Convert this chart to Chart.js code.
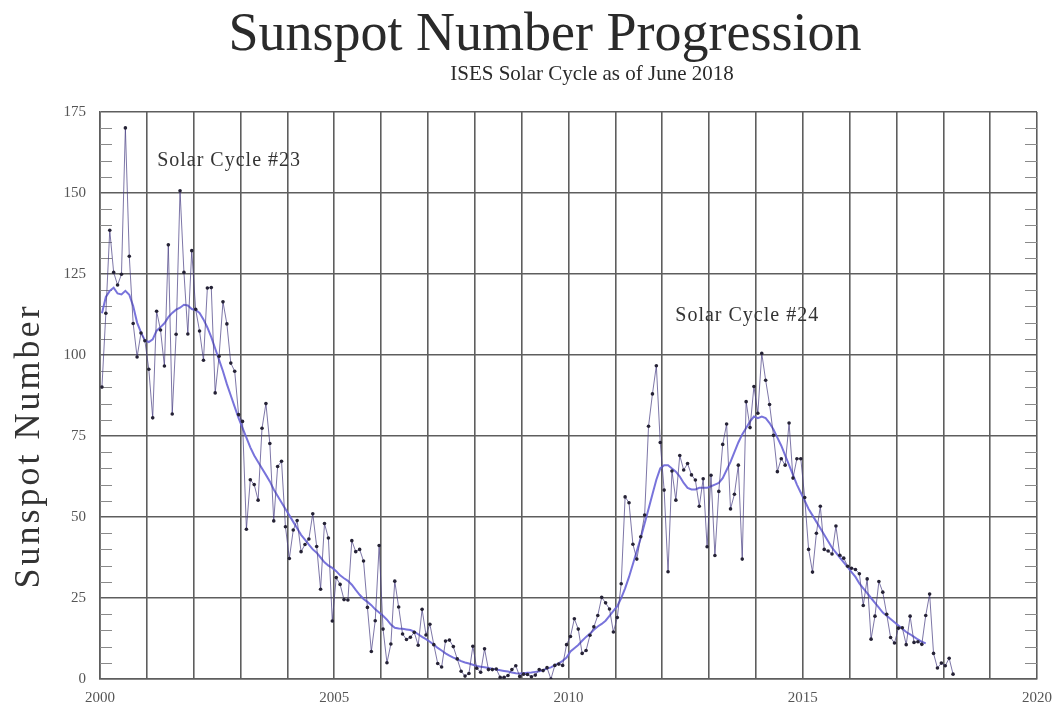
<!DOCTYPE html>
<html>
<head>
<meta charset="utf-8">
<title>Sunspot Number Progression</title>
<script src="https://cdn.jsdelivr.net/npm/chart.js@4.4.1/dist/chart.umd.min.js"></script>
<style>
  html, body { margin: 0; padding: 0; background: #fff; }
  #wrap { width: 1062px; height: 706px; }
</style>
</head>
<body>
<div id="wrap"><canvas id="sunChart"></canvas></div>
<script>
// monthly sunspot numbers, Jan 2000 .. Mar 2018
const firstYear = 2000;
const monthlySunspots = [
  90.1, 112.9, 138.5, 125.5, 121.6, 124.9, 170.1, 130.5, 109.7, 99.4, 106.8, 104.4, // 2000
  95.6, 80.6, 113.5, 107.7, 96.6, 134.0, 81.8, 106.4, 150.7, 125.5, 106.5, 132.2,   // 2001
  114.1, 107.4, 98.4, 120.7, 120.8, 88.3, 99.6, 116.4, 109.6, 97.5, 95.0, 81.6,     // 2002
  79.5, 46.2, 61.5, 60.0, 55.2, 77.4, 85.0, 72.7, 48.8, 65.6, 67.2, 47.0,           // 2003
  37.2, 46.0, 48.9, 39.3, 41.5, 43.2, 51.0, 40.9, 27.7, 48.0, 43.5, 17.9,           // 2004
  31.3, 29.2, 24.5, 24.4, 42.7, 39.3, 40.0, 36.4, 22.1, 8.5, 18.0, 41.2,            // 2005
  15.4, 5.0, 10.8, 30.2, 22.2, 13.9, 12.2, 12.9, 14.4, 10.4, 21.5, 13.6,            // 2006
  16.9, 10.6, 4.8, 3.7, 11.7, 12.0, 10.0, 6.2, 2.4, 0.9, 1.7, 10.1,                 // 2007
  3.3, 2.1, 9.3, 2.9, 2.9, 3.1, 0.5, 0.5, 1.1, 2.9, 4.1, 0.8,                       // 2008
  1.5, 1.4, 0.7, 1.2, 2.9, 2.6, 3.5, 0.0, 4.2, 4.6, 4.2, 10.6,                      // 2009
  13.1, 18.6, 15.4, 7.9, 8.8, 13.5, 16.1, 19.6, 25.2, 23.5, 21.6, 14.5,             // 2010
  19.0, 29.4, 56.2, 54.4, 41.6, 37.0, 43.9, 50.6, 78.0, 88.0, 96.7, 73.0,           // 2011
  58.3, 33.1, 64.2, 55.2, 69.0, 64.5, 66.5, 63.0, 61.4, 53.3, 61.8, 40.8,           // 2012
  62.9, 38.1, 57.9, 72.4, 78.7, 52.5, 57.0, 66.0, 37.0, 85.6, 77.6, 90.3,           // 2013
  82.0, 100.5, 92.2, 84.7, 75.2, 64.0, 68.0, 66.0, 79.0, 62.0, 68.0, 68.0,          // 2014
  56.0, 40.0, 33.0, 45.0, 53.3, 40.0, 39.5, 38.6, 47.2, 38.2, 37.3, 34.8,           // 2015
  34.2, 33.8, 32.5, 22.7, 30.9, 12.3, 19.4, 30.1, 26.8, 20.0, 12.8, 11.1,           // 2016
  15.7, 15.8, 10.6, 19.4, 11.3, 11.5, 10.7, 19.6, 26.2, 7.9, 3.4, 4.9,              // 2017
  4.1, 6.4, 1.5                                                                     // 2018
];

// smoothed monthly values, Jan 2000 .. Aug 2017
const smoothedSunspots = [
  112.9, 117.9, 119.8, 120.8, 119.0, 118.7, 119.8, 118.6, 115.1, 110.0, 107.0, 104.5, // 2000
  104.0, 104.8, 107.5, 108.6, 109.8, 111.7, 113.0, 114.0, 114.6, 115.5, 115.3, 114.2, // 2001
  113.9, 113.0, 111.0, 108.5, 105.5, 102.0, 98.5, 95.0, 91.0, 87.5, 84.0, 80.5,       // 2002
  77.5, 74.5, 71.5, 69.0, 67.0, 65.0, 63.0, 61.0, 58.5, 56.5, 54.5, 52.5,             // 2003
  50.5, 48.5, 46.5, 44.5, 43.0, 41.5, 40.0, 39.0, 37.5, 36.0, 35.0, 34.3,             // 2004
  33.3, 32.0, 31.1, 30.3, 29.1, 27.5, 26.0, 24.7, 23.8, 22.8, 21.5, 20.5,             // 2005
  19.5, 18.3, 16.8, 15.8, 15.6, 15.5, 15.3, 15.1, 14.6, 13.8, 13.0, 12.3,             // 2006
  11.5, 10.6, 9.6, 8.8, 7.9, 7.2, 6.6, 6.1, 5.5, 5.1, 4.8, 4.4,                       // 2007
  4.0, 3.8, 3.6, 3.4, 3.2, 2.9, 2.7, 2.5, 2.3, 2.0, 1.8, 1.7,                         // 2008
  1.8, 1.9, 2.0, 2.2, 2.4, 2.8, 3.2, 3.6, 4.3, 4.8, 5.6, 6.6,                         // 2009
  8.5, 9.5, 10.5, 11.8, 13.0, 14.0, 15.2, 16.2, 17.0, 18.0, 19.5, 21.0,               // 2010
  22.5, 25.0, 28.0, 31.5, 35.5, 39.5, 43.5, 48.0, 52.5, 57.0, 61.5, 65.0,             // 2011
  66.0, 66.0, 65.0, 64.0, 62.5, 60.5, 59.0, 58.5, 58.5, 59.0, 59.0, 59.0,             // 2012
  59.5, 60.0, 60.5, 62.0, 64.5, 67.0, 70.0, 73.0, 75.5, 77.5, 79.5, 81.0,             // 2013
  80.5, 81.0, 80.5, 79.0, 77.0, 74.5, 72.0, 69.0, 66.0, 63.0, 60.0, 57.5,             // 2014
  55.0, 52.5, 50.5, 48.5, 46.5, 44.5, 42.5, 40.5, 39.0, 37.5, 36.0, 34.5,             // 2015
  33.0, 31.5, 29.5, 28.0, 26.5, 25.0, 23.5, 22.0, 20.5, 19.5, 18.5, 17.5,             // 2016
  16.5, 15.5, 14.5, 13.8, 13.0, 12.2, 11.5, 11.0                                      // 2017
];

const yearLabels = [2000, 2005, 2010, 2015, 2020];
const countTicks = [0, 25, 50, 75, 100, 125, 150, 175];

const cycleNotes = [
  { text: "Solar Cycle #23", year: 2001.22, count: 160 },
  { text: "Solar Cycle #24", year: 2012.28, count: 112 }
];

// month index -> fractional year (middle of month)
function toPoints(values) {
  return values.map((v, i) => ({ x: firstYear + (i + 0.5) / 12, y: v }));
}

const serif = "'Liberation Serif', 'DejaVu Serif', serif";

// titles, axis title, cycle notes and minor ticks
const textPlugin = {
  id: "textPlugin",
  beforeDatasetsDraw(chart) {
    const { ctx, chartArea, scales } = chart;
    ctx.save();
    ctx.strokeStyle = "#8a8a8a";
    ctx.lineWidth = 1;
    for (let v = 5; v < 175; v += 5) {
      if (v % 25 === 0) continue;
      const y = Math.round(scales.y.getPixelForValue(v)) + 0.5;
      ctx.beginPath();
      ctx.moveTo(chartArea.left, y);
      ctx.lineTo(chartArea.left + 12, y);
      ctx.moveTo(chartArea.right - 12, y);
      ctx.lineTo(chartArea.right, y);
      ctx.stroke();
    }
    ctx.restore();
  },
  afterDraw(chart) {
    const { ctx, scales } = chart;
    ctx.save();
    ctx.fillStyle = "#2a2a2a";
    ctx.textAlign = "center";
    ctx.textBaseline = "middle";
    ctx.font = "54px " + serif;
    ctx.fillText("Sunspot Number Progression", 545, 36);
    ctx.font = "21px " + serif;
    ctx.fillText("ISES Solar Cycle as of June 2018", 592, 74);

    ctx.save();
    ctx.translate(30, 446);
    ctx.rotate(-Math.PI / 2);
    ctx.font = "36px " + serif;
    ctx.letterSpacing = "3px";
    ctx.fillStyle = "#333";
    ctx.fillText("Sunspot Number", 0, 0);
    ctx.restore();

    ctx.textAlign = "left";
    ctx.font = "20px " + serif;
    ctx.letterSpacing = "1px";
    ctx.fillStyle = "#333";
    cycleNotes.forEach((n) => {
      ctx.fillText(n.text, scales.x.getPixelForValue(n.year), scales.y.getPixelForValue(n.count));
    });
    ctx.restore();
  }
};

const ctx = document.getElementById("sunChart");
new Chart(ctx, {
  type: "line",
  data: {
    datasets: [
      {
        label: "Monthly values",
        data: toPoints(monthlySunspots),
        borderColor: "rgba(70, 60, 130, 0.7)",
        borderWidth: 1,
        pointRadius: 1.8,
        pointBackgroundColor: "#252235",
        pointBorderWidth: 0,
        tension: 0
      },
      {
        label: "Smoothed monthly values",
        data: toPoints(smoothedSunspots),
        borderColor: "rgba(105, 100, 215, 0.9)",
        borderWidth: 2,
        pointRadius: 0,
        tension: 0
      }
    ]
  },
  options: {
    responsive: true,
    maintainAspectRatio: false,
    animation: false,
    layout: { padding: { top: 112, right: 22, bottom: 0, left: 0 } },
    plugins: {
      legend: { display: false },
      tooltip: { enabled: false }
    },
    scales: {
      x: {
        type: "linear",
        min: 2000,
        max: 2020,
        afterFit: (s) => { s.height = 27; },
        grid: { color: "#5e5e5e", lineWidth: 1.6, drawTicks: false },
        border: { color: "#5e5e5e", width: 1.6 },
        ticks: {
          stepSize: 1,
          autoSkip: false,
          maxRotation: 0,
          padding: 10,
          color: "#555",
          font: { family: serif, size: 15 },
          callback: (v) => (yearLabels.includes(v) ? String(v) : "")
        }
      },
      y: {
        min: 0,
        max: 175,
        afterFit: (s) => { s.width = 100; },
        grid: { color: "#5e5e5e", lineWidth: 1.6, drawTicks: false },
        border: { color: "#5e5e5e", width: 1.6 },
        ticks: {
          stepSize: 25,
          padding: 14,
          color: "#555",
          font: { family: serif, size: 15 },
          callback: (v) => (countTicks.includes(v) ? String(v) : "")
        }
      }
    }
  },
  plugins: [textPlugin]
});
</script>
</body>
</html>
